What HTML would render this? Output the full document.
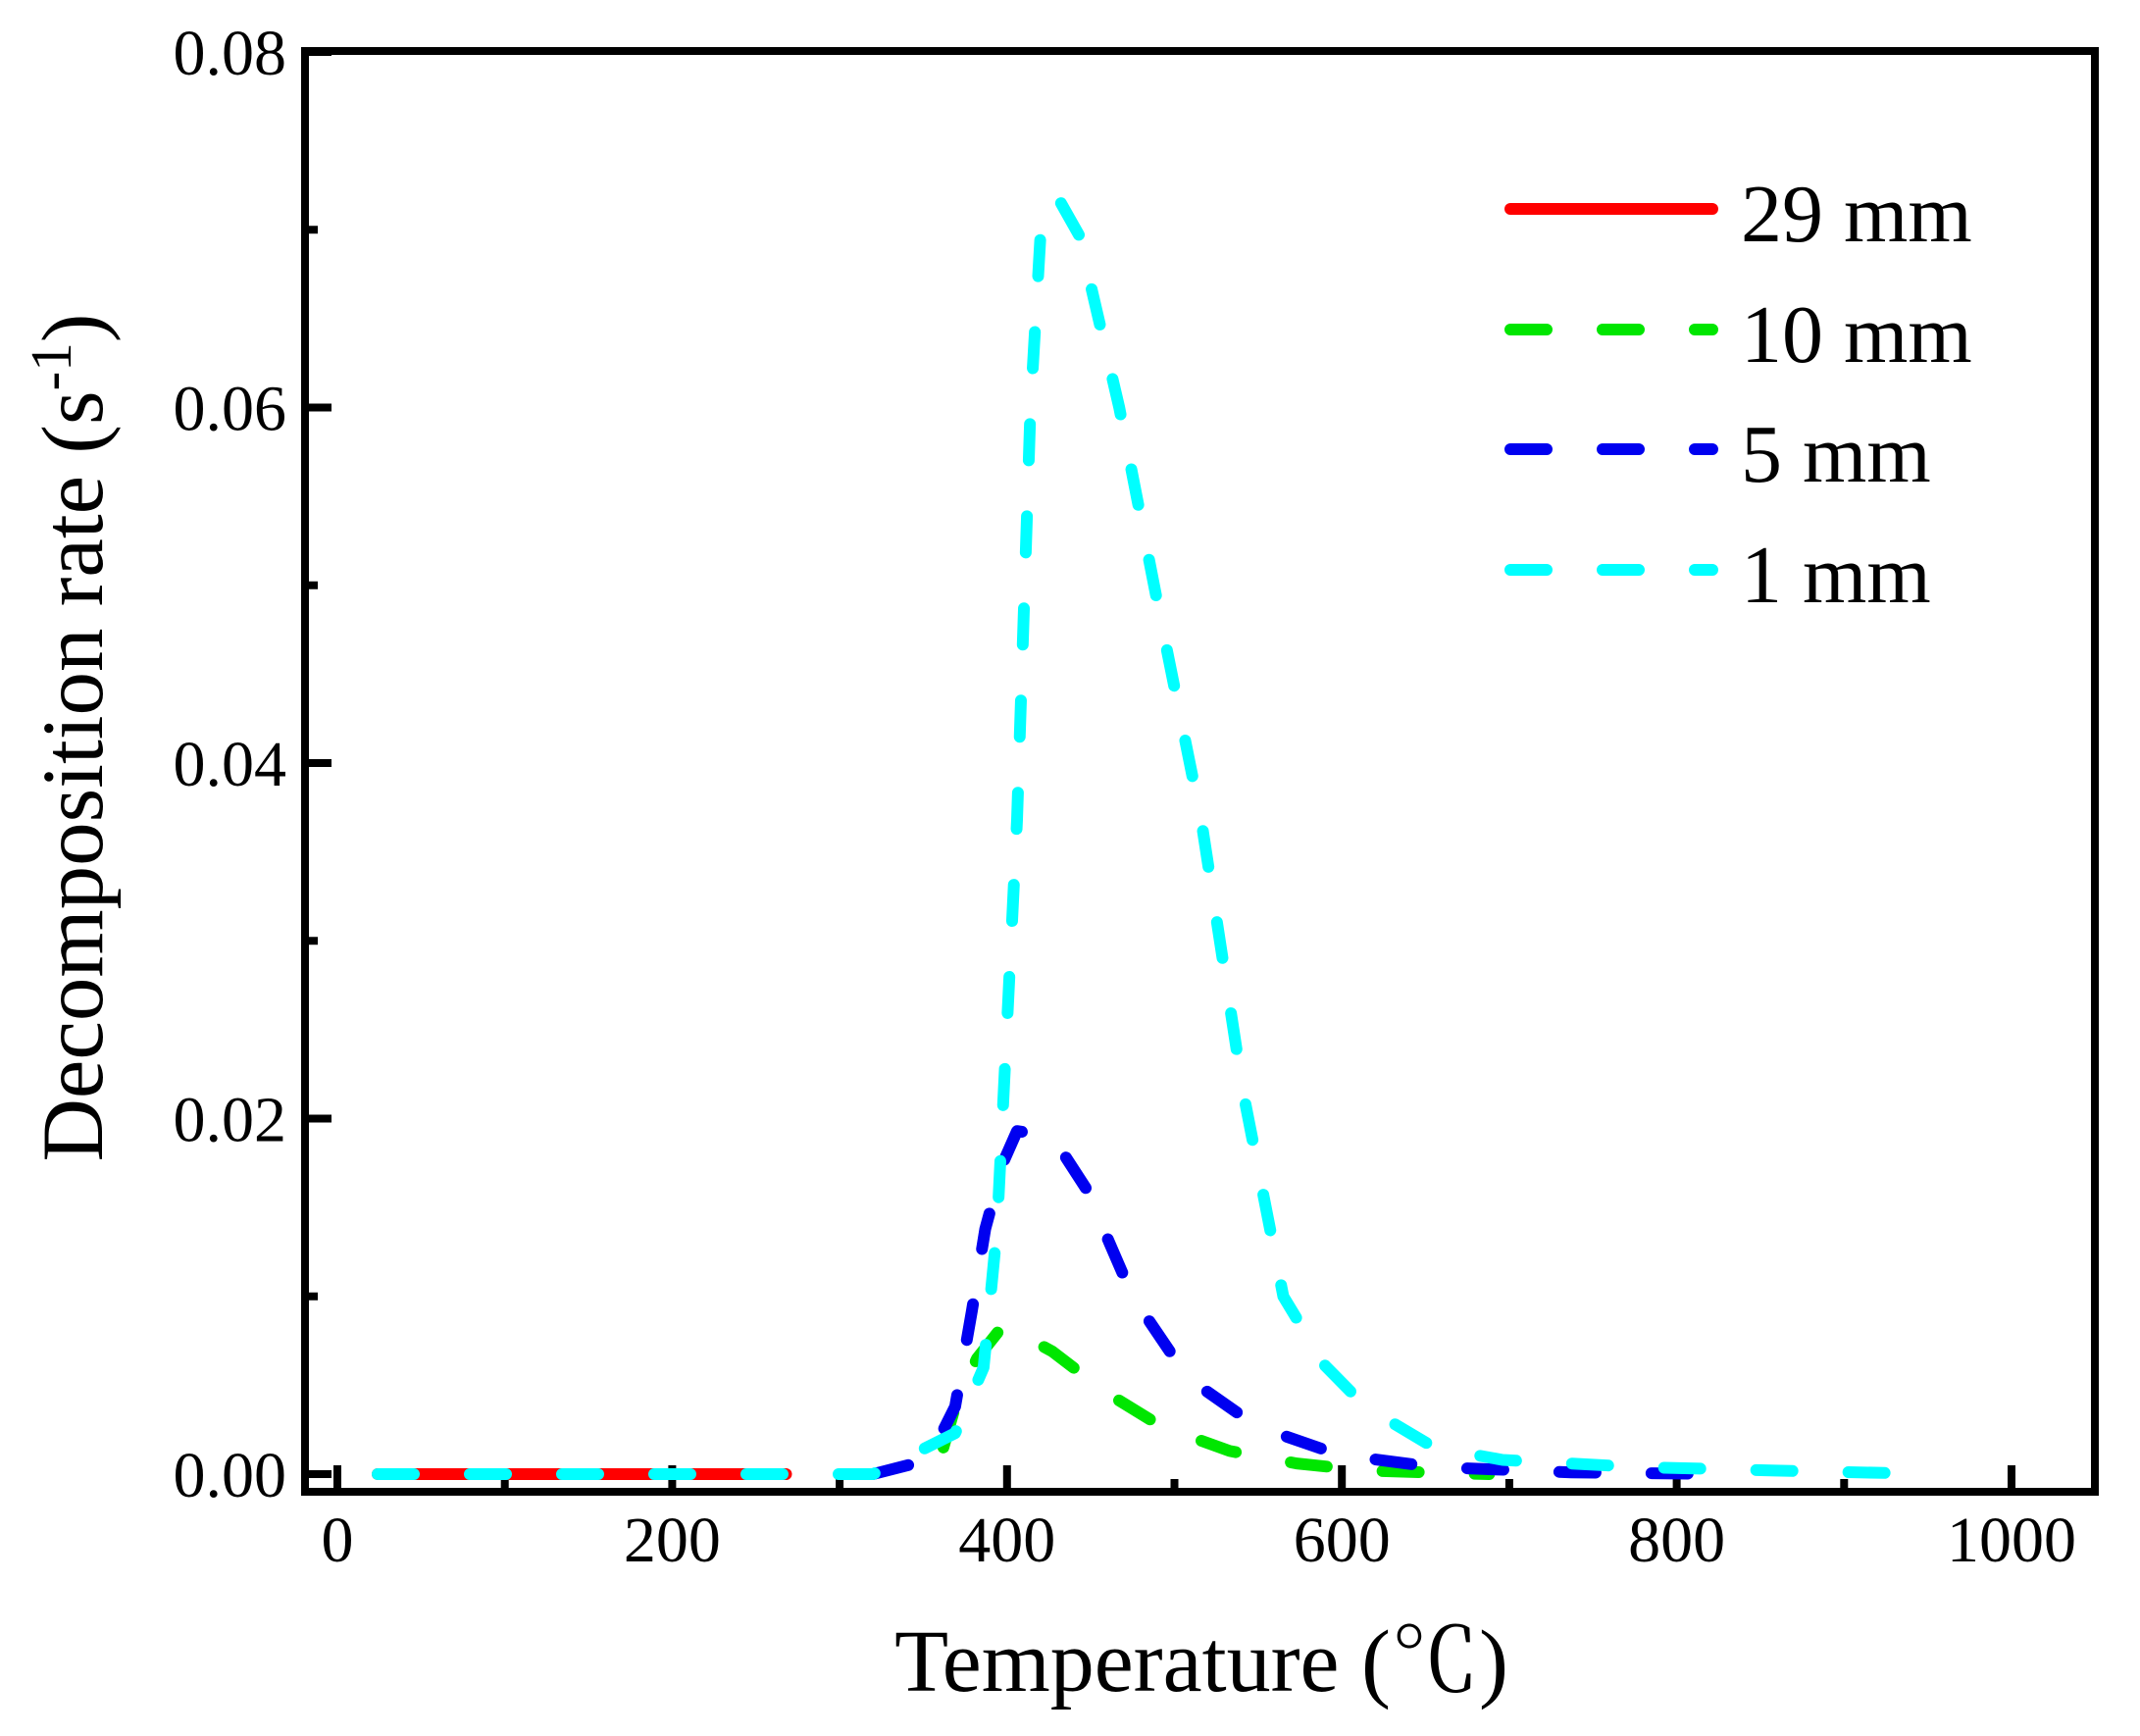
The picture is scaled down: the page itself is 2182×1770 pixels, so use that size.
<!DOCTYPE html>
<html><head><meta charset="utf-8"><style>
html,body{margin:0;padding:0;background:#fff;}
svg{display:block;font-family:"Liberation Serif",serif;}
</style></head><body>
<svg id="chart" width="2182" height="1770" viewBox="0 0 2182 1770" xmlns="http://www.w3.org/2000/svg">
<g id="ticks"></g>
<g id="series"></g>
<rect x="311" y="52" width="1825" height="1469" fill="none" stroke="#000" stroke-width="8"/>
<text x="0" y="0" transform="translate(104,752) rotate(-90)" text-anchor="middle" font-size="89">Decomposition rate (s<tspan dy="-32" font-size="59">-1</tspan><tspan dy="32">)</tspan></text>
<text x="1225" y="1724" text-anchor="middle" font-size="90" font-family="'Liberation Serif','Noto Serif CJK SC',serif">Temperature (℃)</text>
<g>
<g><line x1="1540" y1="213" x2="1746" y2="213" stroke="#ff0000" stroke-width="12" stroke-linecap="round"/><text x="1775" y="246" font-size="84">29 mm</text></g>
<g><line x1="1540" y1="336" x2="1746" y2="336" stroke="#00e600" stroke-width="12" stroke-linecap="round" stroke-dasharray="37 57"/><text x="1775" y="369" font-size="84">10 mm</text></g>
<g><line x1="1540" y1="458" x2="1746" y2="458" stroke="#0000f0" stroke-width="12" stroke-linecap="round" stroke-dasharray="37 57"/><text x="1775" y="491" font-size="84">5 mm</text></g>
<g><line x1="1540" y1="581" x2="1746" y2="581" stroke="#00ffff" stroke-width="12" stroke-linecap="round" stroke-dasharray="37 57"/><text x="1775" y="614" font-size="84">1 mm</text></g>
</g>
</svg>
<script>
const xTicks = [0,200,400,600,800,1000];
const yTicks = [0,0.02,0.04,0.06,0.08];
const yTickLabels = ["0.00","0.02","0.04","0.06","0.08"];
const t29 = [24,100,200,268];
const r29 = [0,0,0,0];
const t10 = [362,369,382,398,427,459,492,533,573,614,688];
const r10 = [0.0015,0.0038,0.0065,0.0084,0.0069,0.0046,0.0027,0.0013,0.0006,0.0002,0];
const t5 = [320,353,369,379,387,398,406,427,447,475,508,549,598,655,737,834];
const r5 = [0,0.0008,0.0038,0.0092,0.0138,0.0176,0.0193,0.019,0.0161,0.01,0.0054,0.0027,0.0011,0.0004,0.0001,0];
const t1 = [24,320,369,386,394,406,414,421,431,443,467,492,516,541,565,590,614,655,696,777,859,957];
const r1 = [0,0,0.0023,0.006,0.0138,0.0368,0.06,0.0713,0.0717,0.0697,0.06,0.048,0.0368,0.0215,0.01,0.0061,0.0038,0.0015,0.0008,0.0004,0.0002,0];

const X = t => 344 + t*1.707;
const Y = r => 1503 - r*18125;
const NS = "http://www.w3.org/2000/svg";
const tg = document.getElementById('ticks');
function mk(tag, attrs, parent){const e=document.createElementNS(NS,tag);for(const k in attrs)e.setAttribute(k,attrs[k]);parent.appendChild(e);return e;}
for(let v=0; v<=1000; v+=100){
  const major = v%200===0;
  const l = mk('line',{x1:X(v),x2:X(v),y1:1521,y2:1521-(major?27:13),stroke:'#000','stroke-width':8},tg);
  
  
}
xTicks.forEach(v=>{
  const t = mk('text',{x:X(v),y:1592,'text-anchor':'middle','font-size':66},tg);
  t.textContent = v;
  
  
});
for(let i=0;i<=8;i++){
  const v=i*0.01; const major=i%2===0;
  const l = mk('line',{x1:311,x2:311+(major?27:13),y1:Y(v),y2:Y(v),stroke:'#000','stroke-width':8},tg);
  
  
}
yTicks.forEach((v,i)=>{
  const t = mk('text',{x:292,y:Y(v)+23,'text-anchor':'end','font-size':66},tg);
  t.textContent = yTickLabels[i];
  
  
});
const sg = document.getElementById('series');
function draw(ts, rs, color, dashed, name){
  const d = ts.map((t,i)=>(i?'L':'M')+X(t).toFixed(1)+','+Y(rs[i]).toFixed(1)).join(' ');
  const p = mk('path',{d:d,fill:'none',stroke:color,'stroke-width':12,'stroke-linecap':'round','stroke-linejoin':'round'},sg);
  if(dashed) p.setAttribute('stroke-dasharray','37 57');
  
  
}
draw(t29, r29, '#ff0000', false, 'series-29mm');
draw(t10, r10, '#00e600', true, 'series-10mm');
draw(t5, r5, '#0000f0', true, 'series-5mm');
draw(t1, r1, '#00ffff', true, 'series-1mm');
</script>
</body></html>
